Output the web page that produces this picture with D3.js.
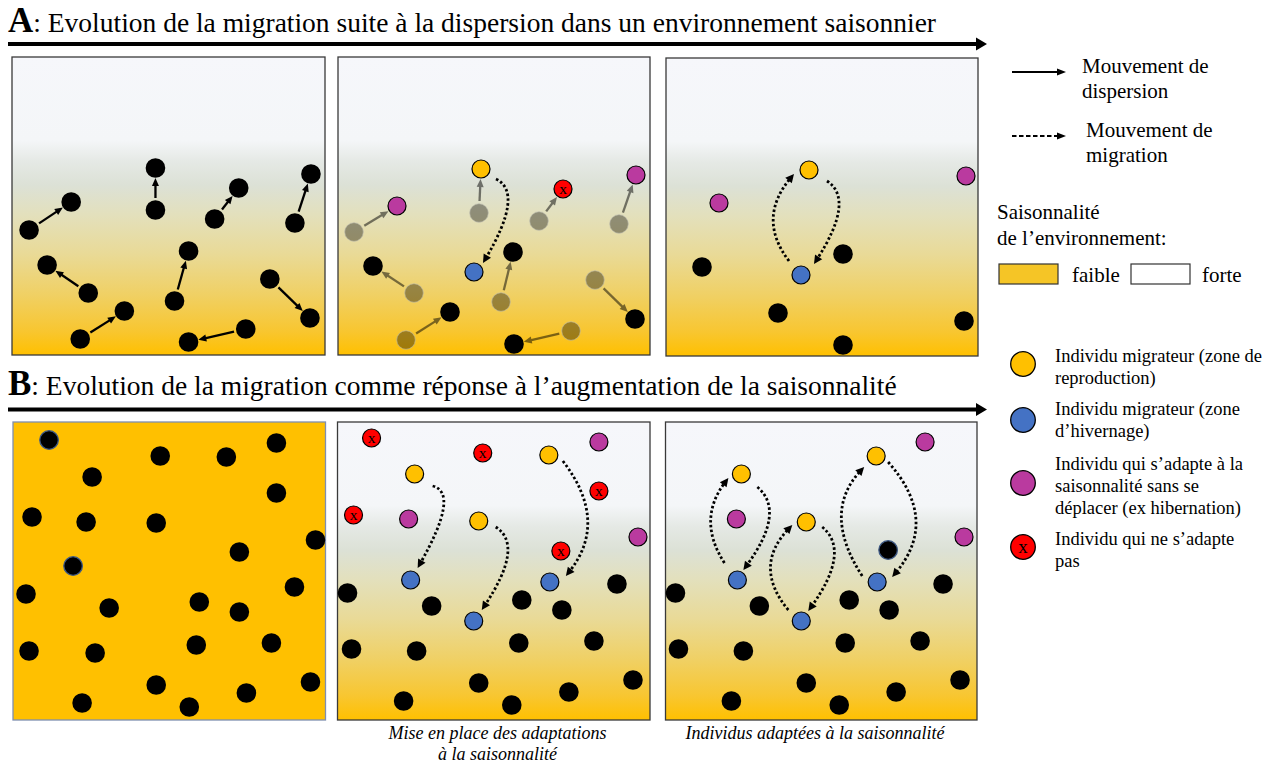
<!DOCTYPE html>
<html><head><meta charset="utf-8">
<script src="https://cdn.jsdelivr.net/npm/d3@7"></script>
<style>
body{margin:0;background:#fff}
svg{display:block}
text{font-family:"Liberation Serif","Times New Roman",serif;fill:#000}
</style>
</head><body>
<svg id="c" width="1276" height="765" font-family="Liberation Serif, Times New Roman, serif"></svg>
<script>
// ---------------- DATA (panel units: x 0..312, y 0..298 from the panel's top-left) -------------
const titleA = ": Evolution de la migration suite à la dispersion dans un environnement saisonnier";
const titleB = ": Evolution de la migration comme réponse à l’augmentation de la saisonnalité";
const captionB2 = ["Mise en place des adaptations", "à la saisonnalité"];
const captionB3 = ["Individus adaptées à la saisonnalité"];
const legendMoves = [["Mouvement de", "dispersion"], ["Mouvement de", "migration"]];
const legendSeason = ["Saisonnalité", "de l’environnement:"];
const legendSeasonKeys = ["faible", "forte"];
const legendTypes = ["yellow", "blue", "magenta", "red"];
const legendLabels = [
  ["Individu migrateur (zone de", "reproduction)"],
  ["Individu migrateur (zone", "d’hivernage)"],
  ["Individu qui s’adapte à la", "saisonnalité sans se", "déplacer (ex hibernation)"],
  ["Individu qui ne s’adapte", "pas"]
];

// Panel A1: dispersion moves [fromX, fromY, toX, toY]
const a1Moves = [
  [17,173,59,145],[143,153,143,111],[202,162,226,131],[282,166,298,117],
  [76,236,35,208],[162,244,176,194],[68,282,112,254],[257,222,297,261],[233,272,176,285]
];
// Panel A2: dispersion moves from the old (faded) position to the new individual
const a2Moves = [
  [16,175,59,149,"magenta"],[141,156,143,112,"yellow"],[201,164,225,132,"red"],
  [281,167,298,118,"magenta"],[76,236,35,209,"black"],[163,245,175,195,"black"],
  [68,283,112,255,"black"],[257,223,297,262,"black"],[233,274,176,287,"black"]
];
const a2Dots = [["blue",136,215]];
const a2Migr = [[[158,122],[169,150],[145,206]]];
// Panel A3
const a3Dots = [
  ["yellow",143,112],["magenta",53,145],["magenta",300,118],["black",36,209],
  ["black",177,196],["blue",135,217],["black",112,255],["black",298,263],["black",177,287]
];
const a3Migr = [
  [[123,203],[108,160],[128,116]],
  [[161,123],[172,153],[148,206]]
];
// Panel B1
const b1Dots = [
  ["ring",36,18],["black",147,34],["black",213,35],["black",263,21],["black",79,55],
  ["black",263,71],["black",19,95],["black",73,100],["black",143,101],["black",302,118],
  ["black",226,130],["ring",60,144],["black",281,165],["black",13,172],["black",96,186],
  ["black",186,180],["black",226,190],["black",16,229],["black",82,231],["black",183,223],
  ["black",258,221],["black",143,263],["black",297,260],["black",233,271],["black",69,281],
  ["black",176,285]
];
// Panel B2
const b2Dots = [
  ["red",34,16],["red",145,31],["red",261,69],["red",16,93],["red",223,129],
  ["magenta",261,20],["magenta",71,97],["magenta",300,115],
  ["yellow",77,52],["yellow",211,33],["yellow",141,99],
  ["blue",73,158],["blue",212,160],["blue",136,199],
  ["black",10,171],["black",94,184],["black",184,178],["black",224,188],["black",279,162],
  ["black",14,227],["black",79,229],["black",181,221],["black",256,219],["black",141,261],
  ["black",231,270],["black",295,258],["black",66,279],["black",174,283]
];
const b2Migr = [
  [[95,64],[105,88],[80,146]],
  [[158,105],[169,135],[144,188]],
  [[225,39],[249,98],[228,154]]
];
// Panel B3
const b3Dots = [
  ["yellow",76,52],["yellow",141,100],["yellow",211,34],
  ["magenta",260,20],["magenta",71,97],["magenta",299,115],
  ["blue",72,158],["blue",136,199],["blue",212,160],["ring",223,128],
  ["black",10,171],["black",94,184],["black",184,178],["black",224,188],["black",278,162],
  ["black",13,227],["black",78,229],["black",180,221],["black",255,219],["black",141,261],
  ["black",231,270],["black",295,258],["black",66,279],["black",174,283]
];
const b3Migr = [
  [[59,141],[46,98],[63,56]],[[92,65],[103,98],[78,148]],
  [[123,188],[106,145],[127,103]],[[157,105],[168,138],[143,189]],
  [[197,154],[177,95],[199,45]],[[223,40],[250,98],[227,155]]
];

// ---------------- LAYOUT & STYLE ----------------
const layout = {
  A1:[12,57,325,355], A2:[338,57,650,355], A3:[666,58,978,356],
  B1:[13,422,325.5,720], B2:[337.5,422,650,720], B3:[665.5,422,977,720]
};
const colors = {yellow:"#FFC000", blue:"#4472C4", magenta:"#BA3A9F", red:"#FF0000", black:"#000"};
const SERIF = "Liberation Serif, Times New Roman, serif";
const svg = d3.select("#c");
const defs = svg.append("defs");
const grad = defs.append("linearGradient").attr("id","season").attr("x1",0).attr("y1",0).attr("x2",0).attr("y2",1);
[[0,"#f6f7fb"],[0.28,"#f4f6f8"],[0.35,"#e5e9e5"],[0.43,"#dce1d6"],[0.53,"#e3e0bc"],
 [0.66,"#e9da97"],[0.8,"#f0d063"],[0.92,"#f8c630"],[1,"#ffc000"]].forEach(s=>
  grad.append("stop").attr("offset",s[0]).attr("stop-color",s[1]));

function txt(sel, x, y, size, s){
  return sel.append("text").attr("x",x).attr("y",y).attr("font-family",SERIF).attr("font-size",size).text(s);
}

function panel(key, solid){
  const [x0,y0,x1,y1] = layout[key];
  const x = d3.scaleLinear().domain([0,312]).range([x0,x1]);
  const y = d3.scaleLinear().domain([0,298]).range([y0,y1]);
  const g = svg.append("g");
  g.append("rect").attr("x",x(0)).attr("y",y(0)).attr("width",x(312)-x(0)).attr("height",y(298)-y(0))
    .attr("fill", solid ? "#FFC000" : "url(#season)")
    .attr("stroke", solid ? "#7f8fb0" : "#3a3a3a").attr("stroke-width", 1.3);
  return {g,x,y};
}

function head(g, tx, ty, ang, len, wid, color){
  const bx = tx - len*Math.cos(ang), by = ty - len*Math.sin(ang);
  const px = -Math.sin(ang)*wid/2, py = Math.cos(ang)*wid/2;
  g.append("path").attr("d",`M${tx},${ty}L${bx+px},${by+py}L${bx-px},${by-py}Z`).attr("fill",color);
}

function straightArrow(g, x1,y1,x2,y2, opts){
  const ang = Math.atan2(y2-y1,x2-x1);
  const sx = x1 + opts.startGap*Math.cos(ang), sy = y1 + opts.startGap*Math.sin(ang);
  const tx = x2 - opts.endGap*Math.cos(ang), ty = y2 - opts.endGap*Math.sin(ang);
  const hl = opts.headLen;
  const grp = g.append("g").attr("opacity", opts.opacity||1);
  grp.append("line").attr("x1",sx).attr("y1",sy)
    .attr("x2",tx-hl*0.7*Math.cos(ang)).attr("y2",ty-hl*0.7*Math.sin(ang))
    .attr("stroke",opts.color).attr("stroke-width",opts.width)
    .attr("stroke-dasharray",opts.dash||null);
  head(grp, tx, ty, ang, hl, opts.headWid, opts.color);
}

function migration(p, pts){
  const s=[p.x(pts[0][0]),p.y(pts[0][1])], m=[p.x(pts[1][0]),p.y(pts[1][1])], e=[p.x(pts[2][0]),p.y(pts[2][1])];
  const c=[2*m[0]-(s[0]+e[0])/2, 2*m[1]-(s[1]+e[1])/2];
  const ang = Math.atan2(e[1]-c[1], e[0]-c[0]);
  const path = d3.path(); path.moveTo(s[0],s[1]);
  const ex = e[0]-5*Math.cos(ang), ey = e[1]-5*Math.sin(ang);
  path.quadraticCurveTo(c[0],c[1],ex,ey);
  p.g.append("path").attr("d",path.toString()).attr("fill","none").attr("stroke","#000")
    .attr("stroke-width",2.8).attr("stroke-dasharray","2.5,2.3");
  head(p.g, e[0], e[1], ang, 8.5, 8.5, "#000");
}

function dot(p, type, cx, cy){
  const X=p.x(cx), Y=p.y(cy);
  if(type==="black"){
    p.g.append("circle").attr("cx",X).attr("cy",Y).attr("r",9.8).attr("fill","#000");
  } else if(type==="ring"){
    p.g.append("circle").attr("cx",X).attr("cy",Y).attr("r",9.3).attr("fill","#000")
      .attr("stroke","#3f5a85").attr("stroke-width",1.3);
  } else if(type==="ghost"){
    p.g.append("circle").attr("cx",X).attr("cy",Y).attr("r",9.3).attr("fill","#000")
      .attr("fill-opacity",0.37).attr("stroke","#bdbdb0").attr("stroke-opacity",0.6).attr("stroke-width",1);
  } else {
    p.g.append("circle").attr("cx",X).attr("cy",Y).attr("r",9).attr("fill",colors[type])
      .attr("stroke","#000").attr("stroke-width",1.2);
    if(type==="red"){
      txt(p.g, X, Y+4.5, 15.5, "x").attr("text-anchor","middle");
    }
  }
}

// ---------------- TITLES & BIG ARROWS ----------------
function title(letter, rest, baseline, lineY){
  const t = svg.append("text").attr("x",8).attr("y",baseline).attr("font-family",SERIF).attr("font-size",27.5);
  t.append("tspan").attr("font-weight","bold").attr("font-size",35).text(letter);
  t.append("tspan").text(rest);
  svg.append("line").attr("x1",8).attr("y1",lineY).attr("x2",978).attr("y2",lineY)
    .attr("stroke","#000").attr("stroke-width",4);
  head(svg, 987, lineY, 0, 11, 13, "#000");
}
title("A", titleA, 32, 44);
title("B", titleB, 395, 409.5);

// ---------------- PANEL A1 ----------------
const pA1 = panel("A1");
a1Moves.forEach(m=>straightArrow(pA1.g, pA1.x(m[0]),pA1.y(m[1]),pA1.x(m[2]),pA1.y(m[3]),
  {startGap:12,endGap:10,headLen:8,headWid:7,width:2.3,color:"#000"}));
a1Moves.forEach(m=>{dot(pA1,"black",m[0],m[1]); dot(pA1,"black",m[2],m[3]);});

// ---------------- PANEL A2 ----------------
const pA2 = panel("A2");
a2Moves.forEach(m=>straightArrow(pA2.g, pA2.x(m[0]),pA2.y(m[1]),pA2.x(m[2]),pA2.y(m[3]),
  {startGap:12,endGap:10,headLen:8,headWid:7,width:2.3,color:"#000",opacity:0.5}));
a2Moves.forEach(m=>{dot(pA2,"ghost",m[0],m[1]); dot(pA2,m[4],m[2],m[3]);});
a2Dots.forEach(d=>dot(pA2,d[0],d[1],d[2]));
a2Migr.forEach(m=>migration(pA2,m));

// ---------------- PANEL A3 ----------------
const pA3 = panel("A3");
a3Migr.forEach(m=>migration(pA3,m));
a3Dots.forEach(d=>dot(pA3,d[0],d[1],d[2]));

// ---------------- PANEL B1..B3 ----------------
const pB1 = panel("B1", true);
b1Dots.forEach(d=>dot(pB1,d[0],d[1],d[2]));
const pB2 = panel("B2");
b2Migr.forEach(m=>migration(pB2,m));
b2Dots.forEach(d=>dot(pB2,d[0],d[1],d[2]));
const pB3 = panel("B3");
b3Migr.forEach(m=>migration(pB3,m));
b3Dots.forEach(d=>dot(pB3,d[0],d[1],d[2]));

// captions
function caption(lines, cx, y0){
  lines.forEach((l,i)=>txt(svg, cx, y0+i*21.5, 18, l)
    .attr("text-anchor","middle").attr("font-style","italic"));
}
caption(captionB2, 497.5, 738.5);
caption(captionB3, 815, 738.5);

// ---------------- LEGEND ----------------
straightArrow(svg, 1012,72,1066,72,{startGap:0,endGap:0,headLen:9,headWid:7,width:2,color:"#000"});
straightArrow(svg, 1012,136,1066,136,{startGap:0,endGap:0,headLen:9,headWid:7,width:2,color:"#000",dash:"4.5,2.5"});
const lm = [[1082,73],[1086,137]];
legendMoves.forEach((lines,i)=>lines.forEach((l,j)=>txt(svg, lm[i][0], lm[i][1]+j*24.5, 21, l)));
legendSeason.forEach((l,j)=>txt(svg, 997, 219+j*26, 21, l));
svg.append("rect").attr("x",999).attr("y",264).attr("width",59).attr("height",20)
  .attr("fill","#F5C526").attr("stroke","#333").attr("stroke-width",1.2);
svg.append("rect").attr("x",1131).attr("y",264).attr("width",59).attr("height",20)
  .attr("fill","#fff").attr("stroke","#333").attr("stroke-width",1.2);
txt(svg, 1072, 282, 21, legendSeasonKeys[0]);
txt(svg, 1202, 282, 21, legendSeasonKeys[1]);

const legY = [364, 420, 483, 547];
const legText = [362, 415, 470, 545];
legendTypes.forEach((t,i)=>{
  svg.append("circle").attr("cx",1023).attr("cy",legY[i]).attr("r",12.3)
    .attr("fill",colors[t]).attr("stroke","#000").attr("stroke-width",1.3);
  if(t==="red") txt(svg, 1023, legY[i]+6, 19, "x").attr("text-anchor","middle");
  legendLabels[i].forEach((l,j)=>txt(svg, 1055, legText[i]+j*22, 18.5, l));
});
</script>
</body></html>
